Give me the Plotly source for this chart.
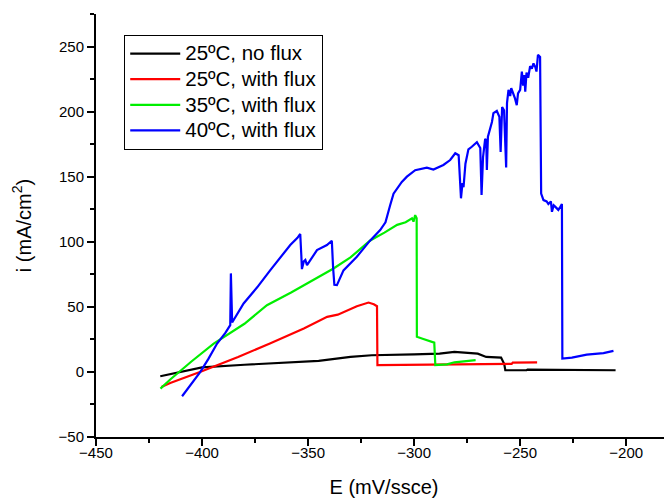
import plotly.graph_objects as go

# 25ºC, no flux (black)
black_x = [-419.7, -415, -400, -380, -365, -345, -330, -320, -300, -288, -281, -277, -270, -266, -259, -257.5, -257, -247, -246.5, -205]
black_y = [-3.3, -1.8, 3.5, 5.5, 6.7, 8.5, 11.5, 12.8, 13.5, 14, 15.4, 15, 14, 11.5, 11, 6, 1.3, 1.3, 1.8, 1.3]

# 25ºC, with flux (red)
red_x = [-419.2, -415, -401, -383, -368, -352, -341, -336, -327, -321.5, -319, -317.5, -317.3, -300, -288, -270, -254, -253.5, -242]
red_y = [-11.5, -8.5, 0, 11.5, 21.8, 33.4, 42.3, 44, 50.5, 53.3, 52, 50.5, 5.2, 5.5, 5.7, 6, 6.2, 7.2, 7.4]

# 35ºC, with flux (green)
green_x = [-419.6, -415, -405, -394.5, -380, -369.4, -358, -347.4, -338, -330, -320.7, -314, -308, -304, -301, -300.3, -299.5, -298.8, -298.7, -296, -292, -290.5, -290, -284.5, -281, -276, -271]
green_y = [-12.8, -5.8, 8, 21.8, 37, 51.3, 61, 71, 79.5, 88, 101, 107, 113, 115, 118, 115.5, 120.5, 118, 27, 25.5, 23.5, 22.5, 5.2, 5.8, 7.4, 8, 9]

# 40ºC, with flux (blue)
blue_x = [-409.4, -405, -400.8, -397, -392.9, -389, -386.7, -386.4, -386.1, -385.8, -380.4, -374, -367.8, -362, -358.4, -355,
          -353.7, -353.2, -352.9, -352, -351.3, -350.5, -345.8, -341.1, -338.8, -338.2, -337.6, -336.4, -333.3, -327, -321,
          -316, -313.5, -311.3, -309.7, -305.8, -303.4, -299.5, -294, -290.9, -286.2, -283, -280.6, -279, -278.3, -277.9,
          -277.2, -276.7, -275.8, -274.4, -272.8, -270.4, -268.8, -268.2, -267.5, -266.5, -266, -265.7, -265.2, -263.3,
          -262.6, -261, -259.8, -259.2, -258.5, -257.6, -256.6, -256.2, -255.5, -254.7, -254.2, -253.2, -252.4, -251.6,
          -251, -250, -249.2, -248.6, -248, -247.6, -247, -246.2, -245.3, -244.5, -243.7, -242.8, -242.3, -241.6, -240.6,
          -240.3, -240.1, -239, -237.5, -236.7, -235.5, -235, -234.2, -233.5, -232, -231, -230.3, -230.1, -225.6, -218.6,
          -210.7, -206]
blue_y = [-18.7, -9, 0, 10, 21.8, 30, 35.9, 75.7, 50, 38, 52.6, 65, 78.2, 90, 97.5, 103,
          106, 90, 79, 85, 86, 82, 93.6, 97.5, 100.8, 80, 67, 66.7, 78, 88.5, 100.5,
          109, 115, 128, 137, 146, 150, 155, 157, 155.5, 159, 162.8, 168, 166.5, 150, 133.4,
          145, 142, 160, 171, 173, 176.5, 172, 136, 165, 179, 178, 155.2, 180.8, 192,
          198.8, 200.5, 196, 169, 203.5, 201, 157, 206.5, 216.7, 212, 218, 214, 210, 205,
          214, 216.7, 230.8, 220, 228, 215.4, 230, 226, 235, 233, 237, 234, 230.8, 243.6, 242,
          180, 137, 132, 131, 129, 131, 123, 128, 127, 124.5, 127, 129, 10.3, 11, 13.3,
          14.5, 16.2]

names = ["25ºC, no flux", "25ºC, with flux", "35ºC, with flux", "40ºC, with flux"]
colors = ["#000000", "#ff0000", "#00ee00", "#0000ff"]

FONT = "Liberation Sans, Arial, sans-serif"

fig = go.Figure()
for xs, ys, nm, c in zip([black_x, red_x, green_x, blue_x], [black_y, red_y, green_y, blue_y], names, colors):
    fig.add_trace(go.Scatter(x=xs, y=ys, mode="lines",
                             name='<span style="font-size:20.5px">' + nm + '</span>',
                             line=dict(color=c, width=2.2)))

# page body has an 8px margin: size/margins compensate so the plot area sits where the reference's does
fig.update_layout(
    width=664, height=491,
    margin=dict(l=87.6, r=0, t=6, b=62.3),
    paper_bgcolor="white", plot_bgcolor="white",
    font=dict(family=FONT, color="black"),
    showlegend=True,
    legend=dict(x=0.049, y=0.951, xanchor="left", yanchor="top",
                bordercolor="black", borderwidth=1, bgcolor="white",
                font=dict(size=17.4, family=FONT, color="black"),
                itemwidth=50, tracegroupgap=0),
)
fig.update_xaxes(
    range=[-450, -178.4], showgrid=False, zeroline=False,
    showline=True, linecolor="black", linewidth=2,
    ticks="outside", ticklen=7, tickwidth=2, tickcolor="black",
    tick0=-450, dtick=50, tickfont=dict(size=15, family=FONT, color="black"),
    ticklabelstandoff=-6,
    minor=dict(ticks="outside", ticklen=4, tickwidth=2, tickcolor="black", dtick=25, tick0=-450, showgrid=False),
    title=dict(text="E (mV/ssce)", font=dict(size=20, family=FONT, color="black"), standoff=20),
)
fig.update_yaxes(
    range=[-50, 275], showgrid=False, zeroline=False,
    showline=True, linecolor="black", linewidth=2,
    ticks="outside", ticklen=7, tickwidth=2, tickcolor="black",
    tick0=-50, dtick=50, tickfont=dict(size=15, family=FONT, color="black"),
    minor=dict(ticks="outside", ticklen=4, tickwidth=2, tickcolor="black", dtick=25, tick0=-50, showgrid=False),
    title=dict(text="i (mA/cm<sup>2</sup>)", font=dict(size=20, family=FONT, color="black"), standoff=22),
)

fig.write_html("out.html")
